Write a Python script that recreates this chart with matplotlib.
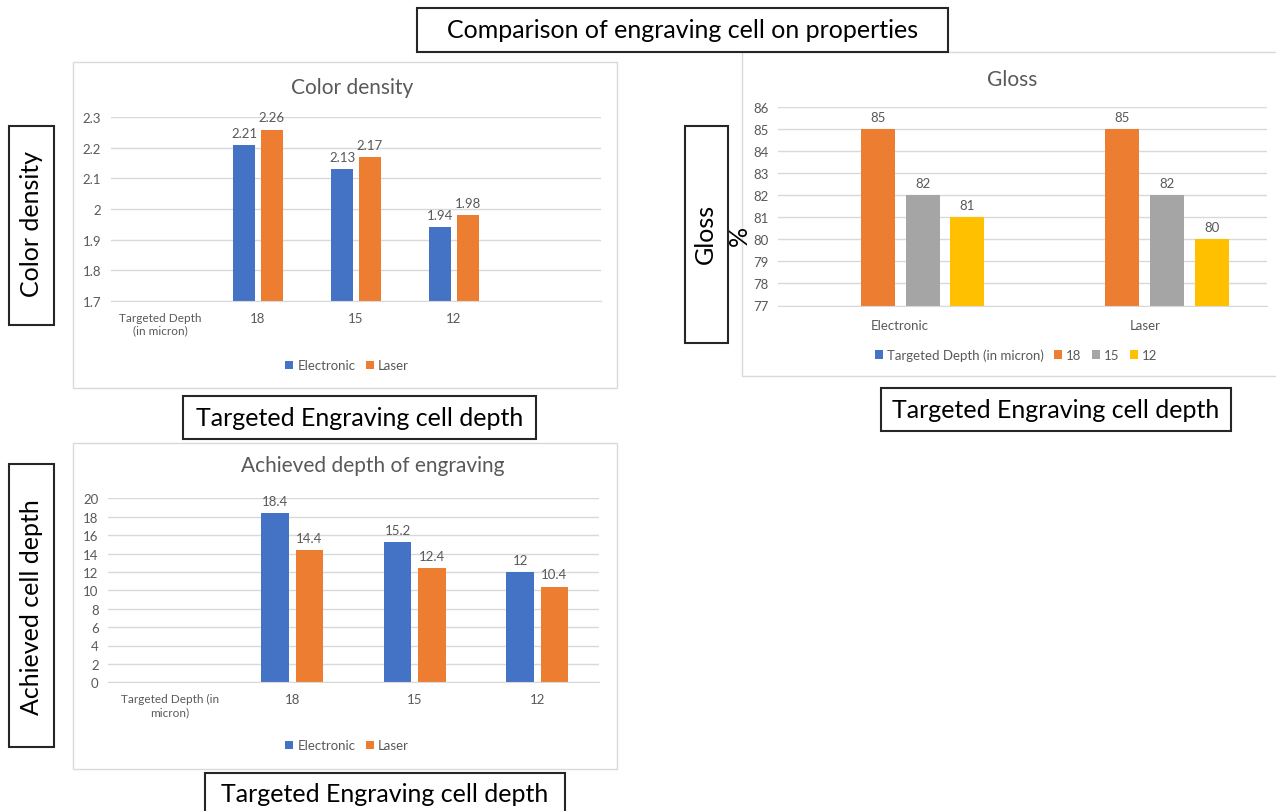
import numpy as np
import matplotlib
matplotlib.use('Agg')
import matplotlib.pyplot as plt
from matplotlib.patches import Rectangle
from matplotlib.ticker import FuncFormatter

plt.rcParams['font.family'] = ['Lato', 'DejaVu Sans']

# data
depths = ['18', '15', '12']
cd_electronic = [2.21, 2.13, 1.94]
cd_laser = [2.26, 2.17, 1.98]

ad_electronic = [18.4, 15.2, 12]
ad_laser = [14.4, 12.4, 10.4]

gloss_groups = ['Electronic', 'Laser']
gloss_target = [0, 0]      # "Targeted Depth (in micron)" series, below the axis
gloss_18 = [85, 85]
gloss_15 = [82, 82]
gloss_12 = [81, 80]

BLUE, ORANGE, GREY, YELLOW = '#4472C4', '#ED7D31', '#A5A5A5', '#FFC000'
TXT = '#595959'
GRID = '#D9D9D9'

W, H = 1276, 812
fig = plt.figure(figsize=(W / 100, H / 100), dpi=100)


def fx(x):
    return x / W


def fy(y):
    return 1 - y / H


def add_ax(x0, y0, x1, y1):
    return fig.add_axes([fx(x0), fy(y1), (x1 - x0) / W, (y1 - y0) / H])


def frame(x0, y0, x1, y1, color=GRID, lw=1.0, fill=False):
    fig.add_artist(Rectangle((fx(x0), fy(y1)), (x1 - x0) / W, (y1 - y0) / H,
                             transform=fig.transFigure, fill=fill, fc='white',
                             ec=color, lw=lw))


def label_box(x0, y0, x1, y1, text, tx, ty, rot=0, size=18):
    frame(x0, y0, x1, y1, color='#262626', lw=1.5, fill=True)
    fig.text(fx(tx), fy(ty), text, ha='center', va='center', rotation=rot,
             fontsize=size, color='black')


def style(ax, ymin, ymax, step):
    ax.set_ylim(ymin, ymax)
    ax.set_yticks(np.arange(ymin, ymax + step / 2, step))
    ax.yaxis.set_major_formatter(FuncFormatter(lambda v, p: f'{round(v, 2):g}'))
    ax.grid(axis='y', color=GRID, lw=1)
    ax.set_axisbelow(True)
    for s in ['top', 'right', 'left']:
        ax.spines[s].set_visible(False)
    ax.spines['bottom'].set_color(GRID)
    ax.tick_params(length=0, labelsize=9.5, labelcolor=TXT)
    ax.tick_params(axis='y', pad=7)
    ax.tick_params(axis='x', pad=8)


def value_labels(ax, bars):
    for b in bars:
        v = b.get_height()
        ax.annotate(f'{v:g}', (b.get_x() + b.get_width() / 2, v),
                    xytext=(0, 4.5), textcoords='offset points',
                    ha='center', va='bottom', fontsize=9.5, color=TXT)


def legend(ax, cx, cy, ncol):
    ax.legend(loc='center', bbox_to_anchor=(fx(cx), fy(cy)),
              bbox_transform=fig.transFigure, ncol=ncol, frameon=False,
              fontsize=9.5, labelcolor=TXT, handlelength=0.6,
              handleheight=0.6, handletextpad=0.3, columnspacing=0.8)


# ---- Color density ----
frame(73, 63, 617, 389)
ax1 = add_ax(111, 118.3, 601, 301.7)
x1 = np.arange(1, 4)
b1 = ax1.bar(x1 - 0.14, cd_electronic, 0.224, color=BLUE, label='Electronic')
b2 = ax1.bar(x1 + 0.14, cd_laser, 0.224, color=ORANGE, label='Laser')
style(ax1, 1.7, 2.3, 0.1)
ax1.set_xlim(-0.5, 4.5)
ax1.set_xticks(range(5), ['Targeted Depth\n(in micron)'] + depths + [''])
ax1.get_xticklabels()[0].set_fontsize(8.5)
value_labels(ax1, b1)
value_labels(ax1, b2)
fig.text(fx(352), fy(87.5), 'Color density', ha='center', va='center',
         fontsize=15, color=TXT)
legend(ax1, 347, 366.5, 2)

# ---- Achieved depth of engraving ----
frame(73, 444, 617, 770)
ax3 = add_ax(108.3, 499.3, 598.6, 683.3)
x3 = np.arange(1, 4)
b5 = ax3.bar(x3 - 0.14, ad_electronic, 0.224, color=BLUE, label='Electronic')
b6 = ax3.bar(x3 + 0.14, ad_laser, 0.224, color=ORANGE, label='Laser')
style(ax3, 0, 20, 2)
ax3.set_xlim(-0.5, 3.5)
ax3.set_xticks(range(4), ['Targeted Depth (in\nmicron)'] + depths)
ax3.get_xticklabels()[0].set_fontsize(8.5)
value_labels(ax3, b5)
value_labels(ax3, b6)
fig.text(fx(372.5), fy(466), 'Achieved depth of engraving', ha='center',
         va='center', fontsize=15, color=TXT)
legend(ax3, 347, 746.5, 2)

# ---- Gloss ----
frame(742, 53, 1290, 377.3)
ax2 = add_ax(778, 107.7, 1267, 306.5)
xg = np.arange(len(gloss_groups))
w = 0.14
ax2.bar(xg - 0.274, gloss_target, w, color=BLUE, label='Targeted Depth (in micron)')
g1 = ax2.bar(xg - 0.0915, gloss_18, w, color=ORANGE, label='18')
g2 = ax2.bar(xg + 0.0915, gloss_15, w, color=GREY, label='15')
g3 = ax2.bar(xg + 0.274, gloss_12, w, color=YELLOW, label='12')
style(ax2, 77, 86, 1)
ax2.set_xlim(-0.5, 1.5)
ax2.set_xticks(xg, gloss_groups)
ax2.tick_params(axis='x', pad=10)
for bars in (g1, g2, g3):
    value_labels(ax2, bars)
fig.text(fx(1012), fy(80), 'Gloss', ha='center', va='center', fontsize=15,
         color=TXT)
legend(ax2, 1016, 355.7, 4)

# ---- black boxed labels ----
label_box(417.3, 9.3, 947.7, 52.7, 'Comparison of engraving cell on properties',
          682.5, 31)
label_box(9.3, 126.7, 54, 326, 'Color density', 31.7, 224, rot=90)
label_box(685, 126.7, 727.7, 344.3, 'Gloss', 705.7, 234, rot=90)
fig.text(fx(739), fy(236), '%', ha='center', va='center', rotation=90,
         fontsize=18, color='black')
label_box(9.3, 465, 54, 748.3, 'Achieved cell depth', 31.7, 607, rot=90)
label_box(183.3, 396.7, 535.7, 440, 'Targeted Engraving cell depth', 360, 418.5)
label_box(881, 389.3, 1231, 431.7, 'Targeted Engraving cell depth', 1056, 410.5)
label_box(205, 774, 565, 830, 'Targeted Engraving cell depth', 385, 795)

fig.savefig('out.png', dpi=100)
